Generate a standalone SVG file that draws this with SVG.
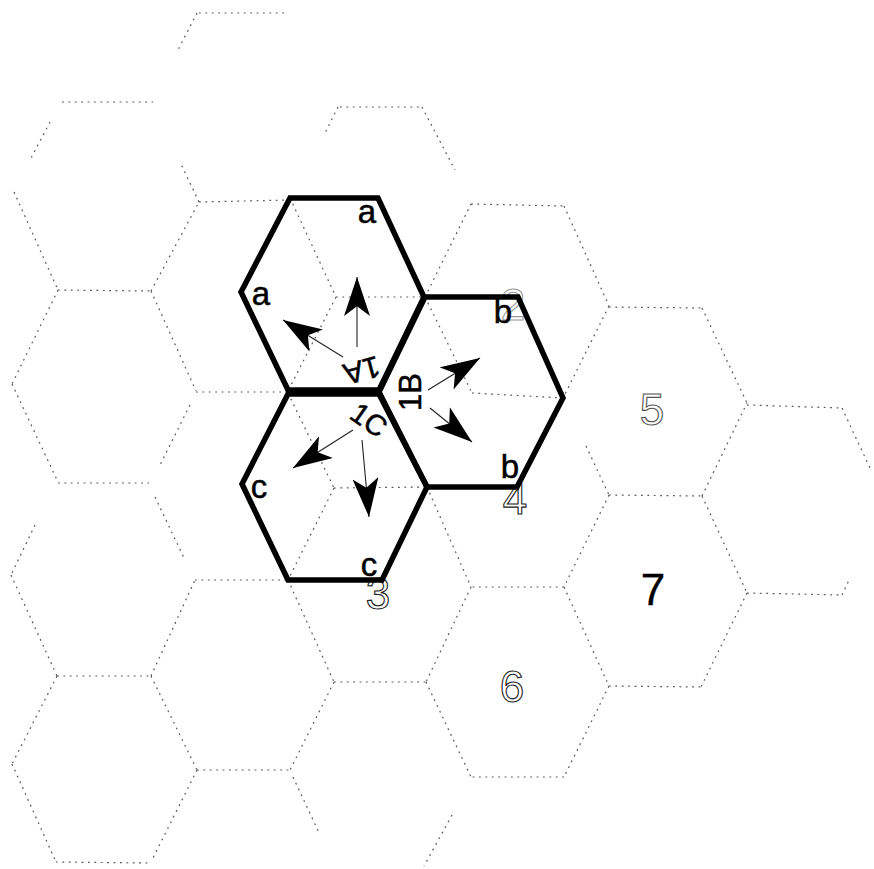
<svg xmlns="http://www.w3.org/2000/svg" width="874" height="869" viewBox="0 0 874 869">
<style>
.grid{fill:none;stroke:#555;stroke-width:1.2;stroke-dasharray:1.8 4.6;stroke-linecap:butt}
.cell{fill:none;stroke:#000;stroke-width:5.5;stroke-linejoin:miter}
.lbl{font-family:"Liberation Sans",Arial,sans-serif;font-size:33px;fill:#000;stroke:#000;stroke-width:0.5;text-anchor:middle}
.sec{font-family:"Liberation Sans",Arial,sans-serif;font-size:30px;fill:#000;stroke:#000;stroke-width:0.5;text-anchor:middle}
.num{font-family:"Liberation Sans",Arial,sans-serif;font-size:44px;text-anchor:middle;fill:#fff;stroke:#222;stroke-width:1.1}
.shaft{fill:none;stroke:#222;stroke-width:1.1}
</style>
<defs>
<marker id="ah" markerUnits="userSpaceOnUse" markerWidth="40" markerHeight="26" viewBox="0 0 36 24" refX="36" refY="12" orient="auto">
<path d="M0,0 L36,12 L0,24 L9,12 Z" fill="#000"/>
</marker>
</defs>
<rect width="874" height="869" fill="#fff"/>
<g id="grid">
<path class="grid" d="M199,13 L288,13 M62,102 L153,102 M340,107 L420,107 M197,13 L178,50 M50,122 L30,160 M199,202 L180,162 M338,107 L324,135 M422,107 L455,170
M14,192 L58,290 M58,290 L151,291 M151,291 L199,202 M199,202 L290,200 M151,291 L196,391 M196,392 L288,392 M58,290 L12,384 M12,384 L58,482 M58,483 L149,483 M190,405 L160,465 M155,497 L185,560 M35,525 L11,575 M11,575 L57,676 M57,676 L151,676 M151,676 L195,580 M195,580 L288,580 M151,676 L197,770 M197,770 L290,770 M288,580 L334,682 M334,682 L290,770 M334,682 L426,682 M57,676 L12,764 M12,764 L56,862 M56,862 L148,863 M197,770 L152,860 M293,777 L320,835 M452,815 L424,866
M290,198 L336,297 M336,297 L425,297 M336,297 L288,391 M425,297 L471,204 M471,204 L564,206 M564,206 L609,306 M609,306 L563,398 M425,297 L472,393 M472,393 L563,398 M288,393 L334,488 M334,488 L427,487 M334,488 L288,580
M609,307 L702,308 M702,308 L747,403 M747,405 L842,408 M842,408 L870,468 M586,446 L609,495 M609,495 L702,496 M702,496 L747,403 M702,496 L747,593 M747,593 L842,595 M842,595 L850,578 M609,495 L564,587 M564,587 L471,587 M427,487 L471,587 M471,587 L426,682 M564,587 L609,686 M747,593 L701,687 M609,686 L701,687 M609,686 L564,777 M564,777 L471,777 M426,682 L471,777"/>
</g>
<g id="cell-numbers">
<text class="num" x="513" y="320" style="stroke:#999">2</text>
<text class="num" x="515" y="514">4</text>
<text class="num" x="378" y="609">3</text>
<text class="num" x="652" y="425" style="stroke:#555">5</text>
<text class="num" x="653" y="605" style="fill:#000;stroke:#000;stroke-width:0.4">7</text>
<text class="num" x="512" y="702">6</text>
</g>
<g id="cell-1A">
<path class="cell" d="M290,198 L378,198 L424,297 L379,390 L288,390 L241,292 Z"/>
<text class="lbl" x="367" y="223">a</text>
<text class="lbl" x="261" y="305">a</text>
<text class="sec" transform="translate(362,371) rotate(165)" x="0" y="11">1A</text>
</g>
<g id="cell-1B">
<path class="cell" d="M425,297 L518,297 L563,398 L517,487 L427,487 L379,392 Z"/>
<text class="lbl" x="503" y="323">b</text>
<text class="lbl" x="510" y="478">b</text>
<text class="sec" transform="translate(410,392) rotate(-90)" x="0" y="11" style="font-size:31px">1B</text>
</g>
<g id="cell-1C">
<path class="cell" d="M288,394 L379,394 L427,487 L382,580 L288,580 L242,484 Z"/>
<text class="lbl" x="259" y="498">c</text>
<text class="lbl" x="369" y="576">c</text>
<text class="sec" transform="translate(369,420) rotate(35)" x="0" y="10" style="font-size:29px">1C</text>
</g>
<g id="connectors">
<line class="shaft" x1="357" y1="347" x2="357" y2="277" marker-end="url(#ah)"/>
<line class="shaft" x1="343" y1="357" x2="283" y2="320" marker-end="url(#ah)"/>
<line class="shaft" x1="428" y1="390" x2="480" y2="358" marker-end="url(#ah)"/>
<line class="shaft" x1="430" y1="408" x2="472" y2="442" marker-end="url(#ah)"/>
<line class="shaft" x1="353" y1="430" x2="293" y2="468" marker-end="url(#ah)"/>
<line class="shaft" x1="362" y1="440" x2="369" y2="517" marker-end="url(#ah)"/>
</g>
</svg>
